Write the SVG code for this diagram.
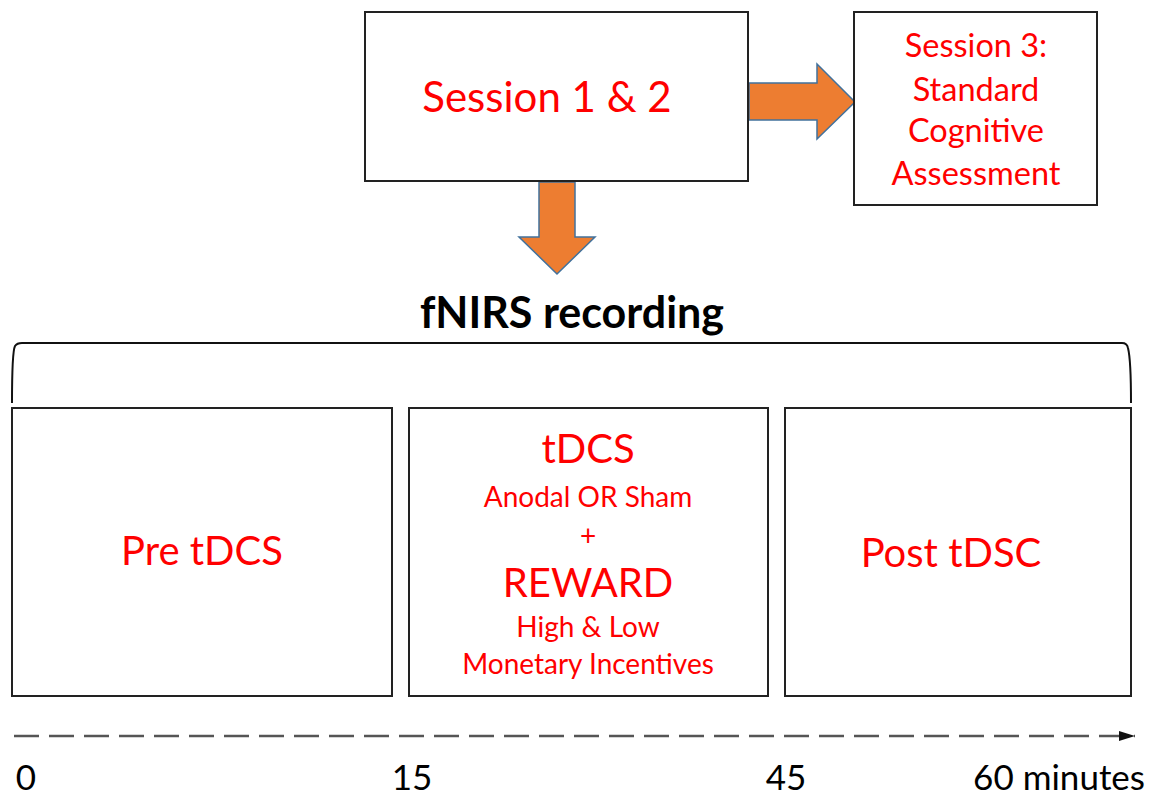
<svg xmlns="http://www.w3.org/2000/svg" width="1160" height="798" viewBox="0 0 1160 798">
<style>
.box{fill:#fff;stroke:#222;stroke-width:2}
.red{fill:#ff0000;font-family:Lato,"Open Sans",sans-serif;text-anchor:middle}
.blk{fill:#000;font-family:Lato,"Open Sans",sans-serif}
.arr{fill:#ED7D31;stroke:#41719C;stroke-width:1.5;stroke-linejoin:miter}
</style>
<defs>
<marker id="ah" markerWidth="16" markerHeight="10" refX="16" refY="5" orient="auto" markerUnits="userSpaceOnUse">
<path d="M0,0 L16,5 L0,10 Z" fill="#111"/>
</marker>
</defs>
<rect width="1160" height="798" fill="#fff"/>
<g id="connectors">
<path class="arr" d="M749,83 L817,83 L817,64 L855,102 L817,139 L817,120 L749,120 Z"/>
<path class="arr" d="M539,182 L575,182 L575,237 L595,237 L557,274 L519,237 L539,237 Z"/>
<path d="M12,403 C12,380 12,352 15,346 Q17,343 22,343 L1122,343 Q1127,343 1128,348 C1131,360 1131,385 1131,403" fill="none" stroke="#111" stroke-width="2"/>
<line x1="14" y1="736" x2="1135" y2="736" stroke="#555" stroke-width="2.5" stroke-dasharray="25 10" marker-end="url(#ah)"/>
</g>
<g id="session12">
<rect class="box" x="365" y="12" width="383" height="169"/>
<text class="red" x="547" y="112" font-size="42">Session 1 &amp; 2</text>
</g>
<g id="session3">
<rect class="box" x="854" y="12" width="243" height="193"/>
<text class="red" x="976" y="57" font-size="32.5">Session 3:</text>
<text class="red" x="976" y="101" font-size="32.5">Standard</text>
<text class="red" x="976" y="142" font-size="32.5">Cognitive</text>
<text class="red" x="976" y="185" font-size="32.5">Assessment</text>
</g>
<g id="fnirs">
<text class="blk" x="572" y="328" font-size="43" font-weight="bold" text-anchor="middle">fNIRS recording</text>
</g>
<g id="pre">
<rect class="box" x="12" y="408" width="380" height="288"/>
<text class="red" x="202" y="565" font-size="40">Pre tDCS</text>
</g>
<g id="during">
<rect class="box" x="409" y="408" width="359" height="288"/>
<text class="red" x="588" y="463" font-size="40">tDCS</text>
<text class="red" x="588" y="507" font-size="28">Anodal OR Sham</text>
<text class="red" x="588" y="546" font-size="28">+</text>
<text class="red" x="588" y="597" font-size="40">REWARD</text>
<text class="red" x="588" y="637" font-size="28">High &amp; Low</text>
<text class="red" x="588" y="674" font-size="28">Monetary Incentives</text>
</g>
<g id="post">
<rect class="box" x="785" y="408" width="346" height="288"/>
<text class="red" x="951" y="567" font-size="40">Post tDSC</text>
</g>
<g id="timeline">
<text class="blk" x="26" y="790" font-size="35" text-anchor="middle">0</text>
<text class="blk" x="412" y="790" font-size="35" text-anchor="middle">15</text>
<text class="blk" x="786" y="790" font-size="35" text-anchor="middle">45</text>
<text class="blk" x="1145" y="790" font-size="35" text-anchor="end">60 minutes</text>
</g>
</svg>
